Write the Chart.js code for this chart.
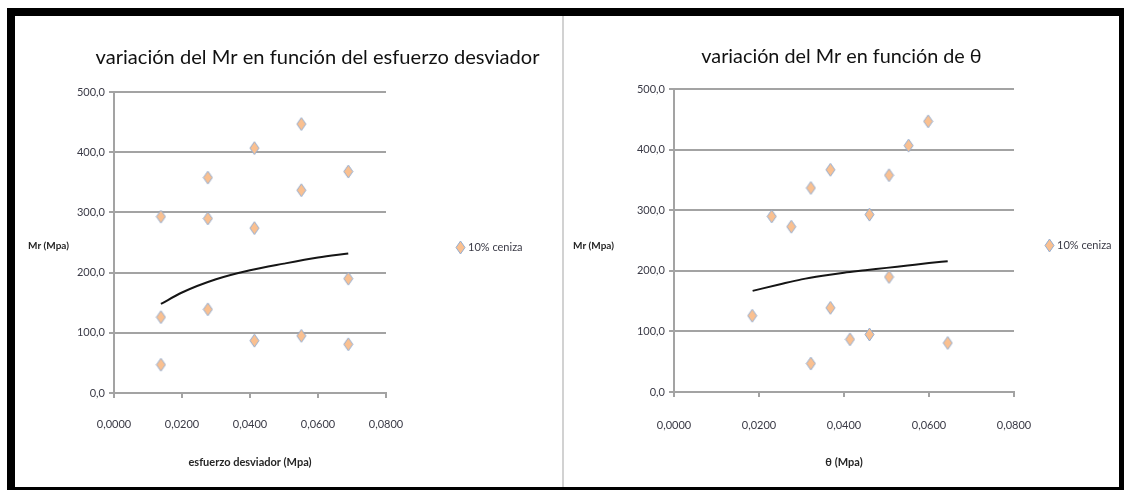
<!DOCTYPE html>
<html lang="es">
<head>
<meta charset="utf-8">
<title>Mr vs esfuerzo desviador y θ</title>
<script src="https://cdn.jsdelivr.net/npm/chart.js@4.4.1/dist/chart.umd.min.js"></script>
<style>
    html, body { margin: 0; padding: 0; background: #fff; }
    body { position: relative; width: 1124px; height: 490px; overflow: hidden; }
    .frame { position: absolute; left: 7px; top: 8px; width: 1117px; height: 482px; background: #000; }
    .panel { position: absolute; top: 16px; height: 471px; background: #fff; }
    .sep { position: absolute; left: 562px; top: 16px; width: 2px; height: 471px; background: #d2d2d2; }
</style>
</head>
<body>
<div class="frame"></div>
<div class="panel" style="left:15px; width:547px;"><canvas id="mrDesviadorChart"></canvas></div>
<div class="sep"></div>
<div class="panel" style="left:564px; width:555px;"><canvas id="mrThetaChart"></canvas></div>

<script>
// --- data ---
const seriesLabel = '10% ceniza';

// left chart: Mr vs esfuerzo desviador
const desviador = [0.0138, 0.0138, 0.0138, 0.0276, 0.0276, 0.0276, 0.0413, 0.0413, 0.0413,
                   0.0551, 0.0551, 0.0551, 0.0689, 0.0689, 0.0689];
const mrDesviador = [293, 126, 47, 358, 290, 139, 407, 274, 87, 447, 337, 95, 368, 190, 81];
const trendDesviadorX = [0.0138, 0.02, 0.03, 0.04, 0.05, 0.06, 0.0689];
const trendDesviadorY = [148, 167, 189, 204, 215, 225, 232];

// right chart: Mr vs theta
const theta = [0.0184, 0.0230, 0.0276, 0.0322, 0.0322, 0.0368, 0.0368, 0.0414,
               0.0460, 0.0460, 0.0506, 0.0506, 0.0552, 0.0598, 0.0644];
const mrTheta = [126, 290, 273, 337, 47, 367, 139, 87, 293, 95, 358, 190, 407, 447, 81];
const trendThetaX = [0.0185, 0.025, 0.03, 0.035, 0.04, 0.045, 0.05, 0.055, 0.06, 0.0644];
const trendThetaY = [167, 178, 186, 192, 197, 201, 205, 209, 213, 216];

// axis ticks
const xTickValues = [0, 0.02, 0.04, 0.06, 0.08];
const yTickValues = [0, 100, 200, 300, 400, 500];

const GRID = '#a3a3a3';
const TEXT = '#3a3a46';

// narrow Excel-style diamond marker
function diamondMarker(w, h) {
    const c = document.createElement('canvas');
    c.width = w + 2;
    c.height = h + 2;
    const g = c.getContext('2d');
    g.beginPath();
    g.moveTo(1 + w / 2, 1);
    g.lineTo(1 + w, 1 + h / 2);
    g.lineTo(1 + w / 2, 1 + h);
    g.lineTo(1, 1 + h / 2);
    g.closePath();
    g.fillStyle = '#fac090';
    g.fill();
    g.strokeStyle = '#93acd0';
    g.lineWidth = 1;
    g.stroke();
    return c;
}
const marker = diamondMarker(9, 13);

// horizontal y-axis title (Excel style, not rotated)
const sideTitle = {
    id: 'sideTitle',
    afterDraw(chart, args, opts) {
        const ctx = chart.ctx;
        ctx.save();
        ctx.font = 'bold 10px Lato';
        ctx.fillStyle = '#262626';
        ctx.textAlign = 'left';
        ctx.textBaseline = 'middle';
        ctx.fillText(opts.text, opts.x, opts.y);
        ctx.restore();
    }
};

// Excel puts the legend well away from the plot; Chart.js' own legend box
// can't be pushed that far, so draw the single entry ourselves
const sideLegend = {
    id: 'sideLegend',
    afterDraw(chart, args, opts) {
        const ctx = chart.ctx;
        const ds = chart.data.datasets[0];
        const img = ds.pointStyle;
        ctx.save();
        ctx.drawImage(img, Math.round(opts.x - img.width / 2), Math.round(opts.y - img.height / 2));
        ctx.font = '11px Lato';
        ctx.fillStyle = TEXT;
        ctx.textAlign = 'left';
        ctx.textBaseline = 'middle';
        ctx.fillText(ds.label, opts.x + opts.gap, opts.y);
        ctx.restore();
    }
};

function toPoints(xs, ys) {
    return xs.map((x, i) => ({ x: x, y: ys[i] }));
}

function makeChart(id, cfg) {
    return new Chart(document.getElementById(id), {
        type: 'scatter',
        data: {
            datasets: [{
                label: seriesLabel,
                data: toPoints(cfg.xs, cfg.ys),
                pointStyle: marker,
                pointRadius: 6,
                order: 1
            }, {
                label: 'tendencia',
                data: toPoints(cfg.trendX, cfg.trendY),
                showLine: true,
                borderColor: '#151515',
                borderWidth: 2,
                pointRadius: 0,
                cubicInterpolationMode: 'monotone',
                order: 0
            }]
        },
        options: {
            responsive: true,
            maintainAspectRatio: false,
            animation: false,
            events: [],
            layout: { padding: { left: cfg.padLeft, right: 0, top: 0, bottom: 0 } },
            plugins: {
                title: {
                    display: true,
                    text: cfg.title,
                    color: '#111',
                    font: { family: 'Lato', size: cfg.titleSize, weight: 'normal' },
                    padding: { top: cfg.titleTop, bottom: cfg.titleGap }
                },
                legend: { display: false },
                tooltip: { enabled: false },
                sideTitle: { text: 'Mr (Mpa)', x: cfg.yTitleX, y: 230 },
                sideLegend: { x: cfg.legendX, y: cfg.legendY, gap: 8 }
            },
            scales: {
                x: {
                    type: 'linear',
                    min: 0,
                    max: 0.08,
                    afterBuildTicks: axis => { axis.ticks = xTickValues.map(v => ({ value: v })); },
                    afterFit: axis => { axis.height = cfg.xHeight; },
                    ticks: {
                        padding: cfg.xTickPad,
                        color: TEXT,
                        font: { family: 'Lato', size: 11 },
                        callback: v => v.toFixed(4).replace('.', ',')
                    },
                    grid: { drawOnChartArea: false, tickLength: 5, color: GRID, lineWidth: 2 },
                    border: { color: GRID, width: 2 },
                    title: {
                        display: true,
                        text: cfg.xTitle,
                        color: '#262626',
                        font: { family: 'Lato', size: 11, weight: 'bold' },
                        padding: { top: 0, bottom: 18 }
                    }
                },
                y: {
                    min: 0,
                    max: 500,
                    afterBuildTicks: axis => { axis.ticks = yTickValues.map(v => ({ value: v })); },
                    afterFit: axis => { axis.width = cfg.yWidth; },
                    ticks: {
                        padding: 4,
                        color: TEXT,
                        font: { family: 'Lato', size: 11 },
                        callback: v => v.toFixed(1).replace('.', ',')
                    },
                    grid: { tickLength: 5, color: GRID, lineWidth: 2 },
                    border: { color: GRID, width: 2 }
                },
                // empty right-hand axis: keeps the room where Excel puts the legend
                legendRoom: {
                    position: 'right',
                    min: 0,
                    max: 500,
                    afterFit: axis => { axis.width = cfg.rightRoom; },
                    ticks: { display: false },
                    grid: { display: false },
                    border: { display: false }
                }
            }
        },
        plugins: [sideTitle, sideLegend]
    });
}

makeChart('mrDesviadorChart', {
    xs: desviador, ys: mrDesviador,
    trendX: trendDesviadorX, trendY: trendDesviadorY,
    title: 'variación del Mr en función del esfuerzo desviador',
    titleSize: 20.1, titleTop: 29, titleGap: 23,
    xTitle: 'esfuerzo desviador (Mpa)',
    padLeft: 58, yWidth: 41, rightRoom: 176,
    yTitleX: 13,
    legendX: 445, legendY: 231,
    xHeight: 94, xTickPad: 20
});

makeChart('mrThetaChart', {
    xs: theta, ys: mrTheta,
    trendX: trendThetaX, trendY: trendThetaY,
    title: 'variación del Mr en función de θ',
    titleSize: 19.8, titleTop: 29, titleGap: 20.5,
    xTitle: 'θ (Mpa)',
    padLeft: 0, yWidth: 110, rightRoom: 105,
    yTitleX: 9,
    legendX: 485, legendY: 229,
    xHeight: 95, xTickPad: 22
});
</script>
</body>
</html>
